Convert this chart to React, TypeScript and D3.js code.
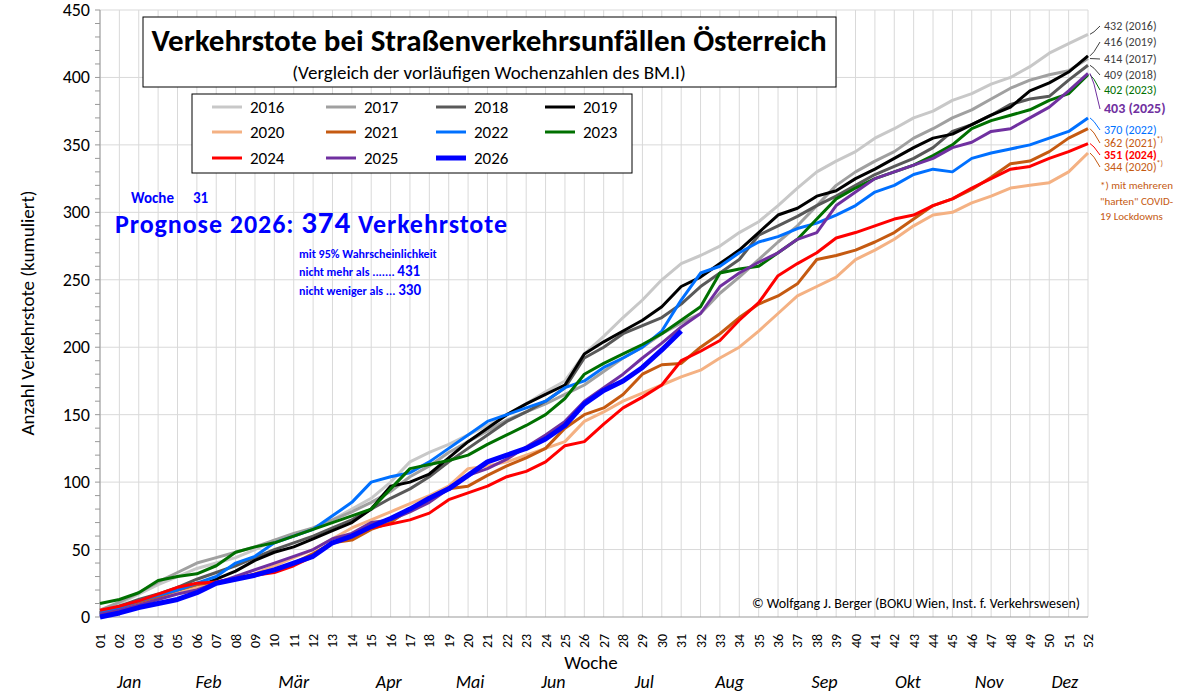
import React from 'react';
import * as d3 from 'd3';

const weeks = d3.range(1, 53);
const months = ['Jan', 'Feb', 'Mär', 'Apr', 'Mai', 'Jun', 'Jul', 'Aug', 'Sep', 'Okt', 'Nov', 'Dez'];
const monthWeeks = [2.5, 6.6, 11, 15.9, 20.1, 24.4, 29.1, 33.5, 38.4, 42.7, 46.9, 50.8];

const y2016 = [5,10,17,24,30,36,40,44,50,57,60,66,72,80,88,100,115,122,128,135,142,150,158,167,175,195,208,222,235,250,262,268,275,285,293,305,318,330,338,345,355,362,370,375,383,388,395,400,408,418,425,432];
const y2017 = [5,11,18,26,33,40,44,48,52,57,62,66,72,78,85,93,104,112,122,130,138,146,152,158,165,172,182,192,200,210,218,225,240,252,265,278,290,305,320,330,338,345,355,362,370,376,384,392,398,402,405,414];
const y2018 = [3,8,13,17,22,28,33,38,44,50,55,60,66,72,80,88,95,104,115,125,135,145,152,160,170,192,200,210,216,222,232,245,255,265,283,290,297,305,312,320,328,334,340,348,360,365,372,380,384,386,398,409];
const y2019 = [2,6,10,14,18,22,28,34,42,48,52,58,64,70,80,97,100,106,118,130,140,150,158,165,172,195,204,212,220,230,245,252,262,272,285,298,303,312,316,325,332,340,348,355,358,365,372,378,390,396,404,416];
const y2020 = [3,6,10,14,18,22,25,28,32,38,44,50,58,66,72,78,84,90,97,110,112,115,120,125,130,145,152,160,166,172,178,183,192,200,212,225,238,245,252,265,272,280,290,298,300,307,312,318,320,322,330,344];
const y2021 = [3,7,11,15,20,24,26,28,32,35,40,47,55,57,65,70,80,88,95,97,105,112,118,125,140,150,155,165,180,187,188,200,210,222,232,238,247,265,268,272,278,285,295,305,310,317,326,336,338,345,355,362];
const y2022 = [3,7,12,16,20,25,30,40,45,55,60,65,75,85,100,104,107,115,125,135,145,150,155,160,170,175,185,192,200,212,235,255,260,270,278,282,288,292,298,305,315,320,328,332,330,340,344,347,350,355,360,370];
const y2023 = [10,13,18,27,30,32,38,48,52,55,60,65,70,75,80,95,110,113,116,120,128,135,142,150,162,180,188,195,202,210,220,230,255,258,260,270,280,295,310,318,325,330,335,342,350,362,368,372,376,383,388,402];
const y2024 = [5,8,12,17,22,25,26,29,31,33,38,45,55,60,66,69,72,77,87,92,97,104,108,115,127,130,143,155,163,172,190,197,205,220,233,253,262,270,281,285,290,295,298,305,310,318,325,332,334,340,345,351];
const y2025 = [2,5,9,13,17,20,25,30,35,40,45,50,58,62,70,72,78,85,95,105,110,117,126,135,145,160,170,180,192,203,215,225,245,255,263,270,280,285,305,315,325,330,335,340,348,352,360,362,370,378,390,403];
const y2026 = [0,3,7,10,13,18,25,28,31,35,40,45,55,60,67,73,80,88,95,105,115,120,125,132,142,158,168,175,185,198,212];

const series = [
  { name: '2016', color: '#c8c8c8', w: 3, data: y2016 },
  { name: '2017', color: '#a0a0a0', w: 3, data: y2017 },
  { name: '2018', color: '#595959', w: 3, data: y2018 },
  { name: '2019', color: '#000000', w: 3, data: y2019 },
  { name: '2020', color: '#f4b183', w: 3, data: y2020 },
  { name: '2021', color: '#c55a11', w: 3, data: y2021 },
  { name: '2022', color: '#0070ff', w: 3, data: y2022 },
  { name: '2023', color: '#007000', w: 3, data: y2023 },
  { name: '2024', color: '#ff0000', w: 3, data: y2024 },
  { name: '2025', color: '#7030a0', w: 3, data: y2025 },
  { name: '2026', color: '#0000ff', w: 5, data: y2026 },
];

const endLabels = [
  { t: '432 (2016)', c: '#404040', y: 30, v: 432, bold: false, size: 12 },
  { t: '416 (2019)', c: '#404040', y: 46, v: 416, bold: false, size: 12 },
  { t: '414 (2017)', c: '#404040', y: 63, v: 414, bold: false, size: 12 },
  { t: '409 (2018)', c: '#404040', y: 79, v: 409, bold: false, size: 12 },
  { t: '402 (2023)', c: '#007000', y: 94, v: 402, bold: false, size: 12 },
  { t: '403 (2025)', c: '#7030a0', y: 113, v: 403, bold: true, size: 14 },
  { t: '370 (2022)', c: '#0070ff', y: 134, v: 370, bold: false, size: 12 },
  { t: '362 (2021)', c: '#c55a11', y: 147, v: 362, bold: false, size: 12, star: true },
  { t: '351 (2024)', c: '#ff0000', y: 159, v: 351, bold: true, size: 12 },
  { t: '344 (2020)', c: '#c55a11', y: 171, v: 344, bold: false, size: 12, star: true },
];

export default function App() {
  const W = 1184, H = 700;
  const x = d3.scaleLinear().domain([1, 52]).range([100, 1088]);
  const y = d3.scaleLinear().domain([0, 450]).range([617, 10]);
  const line = d3.line<number>().x((_, i) => x(i + 1)).y(d => y(d));
  const font = 'Calibri, Carlito, "Open Sans", Arial, sans-serif';
  const legendCols = [212, 326, 436, 545];
  const legendRows = [107, 132, 158];

  return (
    <svg width={W} height={H} style={{ position: 'absolute', left: 0, top: 0, fontFamily: font }}>
      <rect width={W} height={H} fill="#fff" />
      {weeks.map(w => (
        <line key={'v' + w} x1={x(w)} x2={x(w)} y1={10} y2={617} stroke="#d9d9d9" />
      ))}
      {d3.range(50, 451, 50).map(v => (
        <line key={'h' + v} x1={100} x2={1088} y1={y(v)} y2={y(v)} stroke="#d9d9d9" />
      ))}
      <line x1={100} x2={100} y1={10} y2={617} stroke="#999" />
      <line x1={100} x2={1088} y1={617} y2={617} stroke="#999" />
      {d3.range(0, 451, 10).map(v => (
        <line key={'t' + v} x1={95} x2={100} y1={y(v)} y2={y(v)} stroke="#999" />
      ))}
      {d3.range(0, 451, 50).map(v => (
        <text key={'yl' + v} x={90} y={y(v) + 6} textAnchor="end" fontSize={18} fill="#000">{v}</text>
      ))}
      {weeks.map(w => (
        <text key={'xl' + w} transform={`translate(${x(w) + 5},${648}) rotate(-90)`} fontSize={14} fill="#000">
          {String(w).padStart(2, '0')}
        </text>
      ))}
      {months.map((m, i) => (
        <text key={m} x={x(monthWeeks[i])} y={688} textAnchor="middle" fontStyle="italic" fontSize={18}>{m}</text>
      ))}
      <text x={591} y={669} textAnchor="middle" fontSize={19}>Woche</text>
      <text transform="translate(34,313) rotate(-90)" textAnchor="middle" fontSize={19}>Anzahl Verkehrstote (kumuliert)</text>

      {series.map(s => (
        <path key={s.name} d={line(s.data) || ''} fill="none" stroke={s.color} strokeWidth={s.w} strokeLinejoin="round" />
      ))}

      {endLabels.map(l => (
        <g key={l.t}>
          <polyline points={`${x(52) + 2},${y(l.v)} ${1094},${y(l.v) + (l.y - 4 - y(l.v)) * 0.3} 1100,${l.y - 4}`} fill="none" stroke={l.c} strokeWidth={1} />
          <text x={1104} y={l.y} fontSize={l.size} fill={l.c} fontWeight={l.bold ? 'bold' : 'normal'}>
            {l.t}{l.star ? <tspan dy={-5} fontSize={8}>*)</tspan> : null}
          </text>
        </g>
      ))}
      <text fontSize={11} fill="#c55a11">
        <tspan x={1100} y={189}>*) mit mehreren</tspan>
        <tspan x={1100} y={205}>"harten" COVID-</tspan>
        <tspan x={1100} y={220}>19 Lockdowns</tspan>
      </text>

      <rect x={143} y={17} width={693} height={70} fill="#fff" stroke="#000" />
      <text x={489} y={51} textAnchor="middle" fontSize={31} fontWeight="bold">Verkehrstote bei Straßenverkehrsunfällen Österreich</text>
      <text x={489} y={79} textAnchor="middle" fontSize={19}>(Vergleich der vorläufigen Wochenzahlen des BM.I)</text>

      <rect x={192} y={94} width={440} height={79} fill="#fff" stroke="#000" />
      {series.map((s, i) => {
        const cx = legendCols[i % 4], cy = legendRows[Math.floor(i / 4)];
        return (
          <g key={'lg' + s.name}>
            <line x1={cx} x2={cx + 30} y1={cy} y2={cy} stroke={s.color} strokeWidth={s.w} />
            <text x={cx + 38} y={cy + 6} fontSize={17}>{s.name}</text>
          </g>
        );
      })}

      <text x={131} y={203} fontSize={15} fontWeight="bold" fill="#0000ff">Woche</text>
      <text x={193} y={203} fontSize={15} fontWeight="bold" fill="#0000ff">31</text>
      <text x={115} y={233} fontSize={26} fontWeight="bold" fill="#0000ff" textLength={392}>
        Prognose 2026: <tspan fontSize={31}>374</tspan> Verkehrstote
      </text>
      <text x={299} y={258} fontSize={12} fontWeight="bold" fill="#0000ff">mit 95% Wahrscheinlichkeit</text>
      <text x={299} y={276} fontSize={12} fontWeight="bold" fill="#0000ff">nicht mehr als ....... <tspan fontSize={15}>431</tspan></text>
      <text x={299} y={295} fontSize={12} fontWeight="bold" fill="#0000ff">nicht weniger als ... <tspan fontSize={15}>330</tspan></text>

      <text x={1080} y={608} textAnchor="end" fontSize={14}>© Wolfgang J. Berger (BOKU Wien, Inst. f. Verkehrswesen)</text>
    </svg>
  );
}
